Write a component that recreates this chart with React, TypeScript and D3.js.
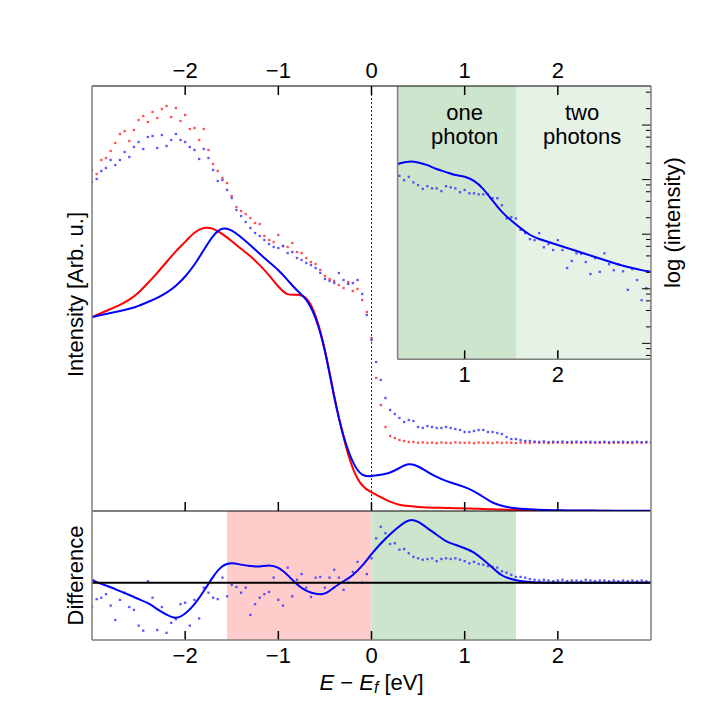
import * as d3 from "d3";

// frame (px)
const W = 720;
const H = 720;
const left = 92;
const right = 651;
const top = 86;
const mainBottom = 511;
const diffBottom = 640;
const insetBottom = 359.3;

// regions (eV)
const insetStartE = 0.28;
const photonSplitE = 1.55;
const depletionStartE = -1.55;

const xTicks = [-2, -1, 0, 1, 2];
const insetXTicks = [1, 2];

// smooth curves, -3 .. 3 eV every 0.1 eV
const redCurve = [
  194, 198, 202, 206, 211, 218, 228, 238, 249, 260,
  269, 279, 284, 283, 277, 270, 262, 255, 246, 236,
  224, 215, 217, 215, 198, 163, 114, 72, 40, 24,
  18.5, 14, 9, 6, 5, 4, 3.5, 3.2, 3, 2.8,
  2.6, 2.3, 2, 1.7, 1.4, 1.2, 1, 0.8, 0.6, 0.5,
  0.4, 0.3, 0.3, 0.2, 0.2, 0.2, 0.1, 0.1, 0.1, 0.1, 0.1,
];
const blueCurve = [
  194, 196, 198, 200, 202, 205, 209, 213, 218, 225,
  234, 246, 261, 276, 284, 281, 274, 266, 257, 249,
  241, 231, 220, 213, 195, 163, 112, 73, 47, 34,
  35, 36, 38, 43, 48, 45, 39, 34, 30, 27,
  24, 20, 14, 8, 5, 3, 2.2, 1.6, 1.2, 0.9,
  0.7, 0.6, 0.5, 0.4, 0.4, 0.3, 0.3, 0.2, 0.2, 0.2, 0.2,
];
const diffCurve = [
  0.04, -0.02, -0.06, -0.12, -0.17, -0.23, -0.28, -0.37, -0.45, -0.51,
  -0.44, -0.31, -0.12, 0.09, 0.25, 0.28, 0.25, 0.23, 0.22, 0.25,
  0.22, 0.11, -0.03, -0.12, -0.16, -0.17, -0.06, 0.02, 0.1, 0.23,
  0.4, 0.55, 0.68, 0.79, 0.89, 0.86, 0.76, 0.67, 0.57, 0.53,
  0.48, 0.43, 0.32, 0.21, 0.09, 0.05, 0.02, 0.01, 0, 0,
  0, 0, 0, 0, 0, 0, 0, 0, 0, 0, 0,
];

// measured points, -3 .. 3 eV every 0.05 eV
const redDots = [
  341, 337, 351, 353, 360, 368, 377, 380, 370, 381,
  391, 395, 389, 399, 393, 402, 405, 394, 403, 390,
  396, 382, 383, 371, 382, 361, 347, 340, 333, 328,
  315, 304, 300, 297, 293, 288, 287, 275, 271, 269,
  276, 265, 264, 268, 259, 258, 253, 249, 247, 241,
  235, 232, 230, 226, 223, 229, 220, 222, 211, 199,
  173, 133, 106, 84, 75, 73, 71, 70, 69, 69,
  68.3, 68.6, 68.1, 68.4, 67.9, 68.5, 68.2, 68.0, 68.6, 68.3,
  68.1, 68.4, 67.8, 68.5, 68.2, 68.3, 67.9, 68.6, 68.1, 68.4,
  68.2, 67.9, 68.5, 68.3, 68.0, 68.6, 68.2, 68.4, 67.8, 68.3,
  68.5, 68.1, 68.3, 67.9, 68.4, 68.2, 68.6, 68.0, 68.3, 68.1,
  68.4, 67.9, 68.2, 68.5, 68.1, 68.3, 67.8, 68.4, 68.2, 68.5,
  68.1,
];
const blueDots = [
  329, 332, 340, 343, 351, 346, 351, 359, 354, 364,
  369, 362, 374, 375, 363, 376, 365, 371, 377, 371,
  369, 364, 361, 352, 362, 353, 341, 330, 331, 321,
  313, 301, 295, 289, 283, 278, 275, 271, 267, 264,
  263, 265, 258, 259, 253, 251, 248, 246, 243, 238,
  232, 230, 228, 238, 231, 227, 228, 231, 217, 196,
  171, 149, 131, 113, 101, 97, 93, 89, 91, 90,
  84, 83, 85, 84, 83, 83, 84, 83, 82, 81,
  79, 79, 80, 81, 81, 79, 79, 78, 77, 74,
  72, 72, 71, 70, 70, 69.4, 69.1, 69.6, 68.9, 69.3,
  69.0, 69.5, 68.8, 69.2, 69.4, 68.9, 69.1, 69.3, 68.7, 69.0,
  69.2, 68.8, 69.1, 68.9, 69.3, 68.7, 69.0, 69.2, 68.8, 69.1,
  68.9,
];
const diffDots = [
  -0.34, -0.23, -0.21, -0.16, -0.32, -0.52, -0.24, -0.14, -0.34, -0.38,
  -0.6, -0.67, 0.02, -0.21, -0.66, -0.34, -0.7, -0.56, -0.51, -0.3,
  -0.28, -0.6, -0.24, -0.5, -0.07, -0.14, -0.21, -0.23, 0.07, -0.19,
  -0.03, -0.06, -0.14, -0.07, -0.45, -0.3, -0.21, -0.16, -0.13, 0.07,
  -0.24, -0.32, 0.21, -0.19, 0.04, 0.12, -0.07, -0.2, 0.07, 0.08,
  -0.07, 0.07, 0.18, 0.07, -0.1, 0.0, 0.15, 0.29, 0.0, 0.12,
  0.34, 0.62, 0.78, 0.69, 0.54, 0.55, 0.46, 0.47, 0.41, 0.36,
  0.34, 0.32, 0.33, 0.34, 0.3, 0.33, 0.34, 0.33, 0.34, 0.32,
  0.3, 0.27, 0.29, 0.26, 0.25, 0.23, 0.22, 0.21, 0.16, 0.14,
  0.11, 0.08, 0.08, 0.07, 0.05, 0.04, 0.03, 0.04, 0.03, 0.02,
  0.03, 0.04, 0.02, 0.03, 0.03, 0.02, 0.04, 0.03, 0.02, 0.03,
  0.03, 0.02, 0.03, 0.02, 0.03, 0.02, 0.03, 0.02, 0.03, 0.02,
  0.02,
];

// inset, log10(intensity): curve 0.2 .. 3 eV every 0.1, points 0.3 .. 3 eV every 0.05
const insetCurveLog = [
  4.24, 4.3, 4.34, 4.32, 4.27, 4.19, 4.14, 4.08, 4.06, 3.99,
  3.84, 3.61, 3.4, 3.25, 3.11, 2.98, 2.91, 2.86, 2.8, 2.75,
  2.69, 2.64, 2.58, 2.53, 2.47, 2.42, 2.38, 2.34, 2.31,
];
const insetDotsLog = [
  4.07, 3.99, 4.05, 3.95, 3.9, 3.83, 3.88, 3.84, 3.84, 3.79,
  3.88, 3.86, 3.84, 3.77, 3.81, 3.75, 3.75, 3.73, 3.73, 3.73,
  3.66, 3.66, 3.53, 3.29, 3.31, 3.29, 3.08, 3.02, 2.91, 2.89,
  3.02, 2.76, 2.82, 2.71, 2.89, 2.71, 2.38, 2.51, 2.65, 2.64,
  2.49, 2.27, 2.56, 2.31, 2.65, 2.45, 2.34, 2.45, 2.32, 1.98,
  2.36, 2.16, 1.79, 2.01, 1.65,
];

const grid = (start: number, step: number, n: number) =>
  d3.range(n).map((i) => +(start + i * step).toFixed(3));

const FONT = "Liberation Sans, Arial, Helvetica, sans-serif";
const FS = 22;
const GRAY = "#7f7f7f";
const fmt = (t: number) => String(t).replace("-", "\u2212");

export default function App() {
  const x = d3.scaleLinear().domain([-3, 3]).range([left, right]);
  const y = d3.scaleLinear().domain([0, 425]).range([mainBottom, top]);
  const yd = d3.scaleLinear().domain([-0.8, 1.0]).range([diffBottom, mainBottom]);
  const yl = d3.scaleLog().domain([5.1, 5.2e5]).range([insetBottom, top]);

  const eCurve = grid(-3, 0.1, redCurve.length);
  const eDots = grid(-3, 0.05, redDots.length);
  const eInsetCurve = grid(0.2, 0.1, insetCurveLog.length);
  const eInsetDots = grid(0.3, 0.05, insetDotsLog.length);

  const smooth = d3.curveBasis;
  const mainLine = d3
    .line<[number, number]>()
    .x((d) => x(d[0]))
    .y((d) => y(d[1]))
    .curve(smooth);
  const diffLine = d3
    .line<[number, number]>()
    .x((d) => x(d[0]))
    .y((d) => yd(d[1]))
    .curve(smooth);
  const insetLine = d3
    .line<[number, number]>()
    .x((d) => x(d[0]))
    .y((d) => yl(Math.pow(10, d[1])))
    .curve(smooth);

  const zip = (es: number[], vs: number[]) =>
    vs.map((v, i) => [es[i], v] as [number, number]);

  const logTicks = yl.ticks().filter((t) => {
    const m = Math.round(t / Math.pow(10, Math.floor(Math.log10(t) + 1e-9)));
    return [1, 2, 4, 6, 8].includes(m);
  });
  const isMajor = (t: number) =>
    Math.abs(Math.log10(t) - Math.round(Math.log10(t))) < 1e-6;

  const dot = 2.3;
  const xi0 = x(insetStartE);

  return (
    <svg
      width={W}
      height={H}
      style={{ position: "absolute", left: 0, top: 0, background: "#fff" }}
      fontFamily={FONT}
    >
      <defs>
        <clipPath id="clipMain">
          <rect x={left} y={top} width={right - left} height={mainBottom - top} />
        </clipPath>
        <clipPath id="clipDiff">
          <rect x={left} y={mainBottom} width={right - left} height={diffBottom - mainBottom} />
        </clipPath>
        <clipPath id="clipInset">
          <rect x={xi0} y={top} width={right - xi0} height={insetBottom - top} />
        </clipPath>
      </defs>

      {/* difference panel */}
      <rect
        x={x(depletionStartE)}
        y={mainBottom}
        width={x(0) - x(depletionStartE)}
        height={diffBottom - mainBottom}
        fill="#ffcccc"
      />
      <rect
        x={x(0)}
        y={mainBottom}
        width={x(photonSplitE) - x(0)}
        height={diffBottom - mainBottom}
        fill="#cce5cc"
      />
      <g clipPath="url(#clipDiff)">
        {zip(eDots, diffDots).map(([e, v], i) => (
          <rect key={i} x={x(e) - dot / 2} y={yd(v) - dot / 2} width={dot} height={dot} fill="#3a3aff" opacity={0.85} />
        ))}
        <path d={diffLine(zip(eCurve, diffCurve)) || ""} fill="none" stroke="#0000ff" strokeWidth={2} />
      </g>
      <line x1={left} x2={right} y1={yd(0)} y2={yd(0)} stroke="#000" strokeWidth={2} />

      {/* main panel */}
      <line x1={x(0)} x2={x(0)} y1={top} y2={mainBottom} stroke="#000" strokeWidth={0.8} strokeDasharray="2,2" />
      <g clipPath="url(#clipMain)">
        {zip(eDots, redDots).map(([e, v], i) => (
          <rect key={"r" + i} x={x(e) - dot / 2} y={y(v) - dot / 2} width={dot} height={dot} fill="#ff3030" opacity={0.85} />
        ))}
        {zip(eDots, blueDots).map(([e, v], i) => (
          <rect key={"b" + i} x={x(e) - dot / 2} y={y(v) - dot / 2} width={dot} height={dot} fill="#3a3aff" opacity={0.85} />
        ))}
        <path d={mainLine(zip(eCurve, redCurve)) || ""} fill="none" stroke="#ff0000" strokeWidth={2} />
        <path d={mainLine(zip(eCurve, blueCurve)) || ""} fill="none" stroke="#0000ff" strokeWidth={2} />
      </g>

      {/* inset */}
      <rect x={xi0} y={top} width={x(photonSplitE) - xi0} height={insetBottom - top} fill="#cde5cd" />
      <rect x={x(photonSplitE)} y={top} width={right - x(photonSplitE)} height={insetBottom - top} fill="#e6f2e6" />
      <g clipPath="url(#clipInset)">
        {zip(eInsetDots, insetDotsLog).map(([e, v], i) => (
          <rect key={i} x={x(e) - dot / 2} y={yl(Math.pow(10, v)) - dot / 2} width={dot} height={dot} fill="#3a3aff" opacity={0.85} />
        ))}
        <path d={insetLine(zip(eInsetCurve, insetCurveLog)) || ""} fill="none" stroke="#0000ff" strokeWidth={2} />
      </g>
      {insetXTicks.map((t) => (
        <g key={"it" + t}>
          <line x1={x(t)} x2={x(t)} y1={insetBottom} y2={insetBottom - 9} stroke="#000" strokeWidth={1.5} />
          <text x={x(t)} y={382} fontSize={FS} textAnchor="middle">{fmt(t)}</text>
        </g>
      ))}
      {logTicks.map((t) => (
        <line
          key={"lt" + t}
          x1={right}
          x2={right - (isMajor(t) ? 9 : 5)}
          y1={yl(t)}
          y2={yl(t)}
          stroke="#000"
          strokeWidth={1}
        />
      ))}
      <line x1={xi0} x2={xi0} y1={top} y2={insetBottom} stroke={GRAY} strokeWidth={1.5} />
      <line x1={xi0} x2={right} y1={insetBottom} y2={insetBottom} stroke={GRAY} strokeWidth={1.5} />
      <text fontSize={FS} textAnchor="middle">
        <tspan x={x(1.0)} y={120}>one</tspan>
        <tspan x={x(1.0)} y={144}>photon</tspan>
      </text>
      <text fontSize={FS} textAnchor="middle">
        <tspan x={x(2.26)} y={120}>two</tspan>
        <tspan x={x(2.26)} y={144}>photons</tspan>
      </text>

      {/* x ticks */}
      {xTicks.map((t) => (
        <g key={"xt" + t}>
          <line x1={x(t)} x2={x(t)} y1={top} y2={top + 9} stroke="#000" strokeWidth={1.5} />
          <line x1={x(t)} x2={x(t)} y1={mainBottom} y2={mainBottom - 9} stroke="#000" strokeWidth={1.5} />
          <line x1={x(t)} x2={x(t)} y1={diffBottom} y2={diffBottom - 9} stroke="#000" strokeWidth={1.5} />
          <text x={x(t)} y={78} fontSize={FS} textAnchor="middle">{fmt(t)}</text>
          <text x={x(t)} y={663} fontSize={FS} textAnchor="middle">{fmt(t)}</text>
        </g>
      ))}

      {/* frame */}
      <line x1={left} x2={right} y1={top} y2={top} stroke="#000" strokeWidth={1} />
      <line x1={left} x2={right} y1={mainBottom} y2={mainBottom} stroke="#000" strokeWidth={1} />
      <line x1={left} x2={right} y1={diffBottom} y2={diffBottom} stroke={GRAY} strokeWidth={1.5} />
      <line x1={left} x2={left} y1={top} y2={diffBottom} stroke={GRAY} strokeWidth={1.5} />
      <line x1={right} x2={right} y1={top} y2={diffBottom} stroke={GRAY} strokeWidth={1.5} />

      {/* labels */}
      <text transform={`translate(83,${(top + mainBottom) / 2 - 4}) rotate(-90)`} fontSize={FS} textAnchor="middle">
        Intensity [Arb. u.]
      </text>
      <text transform={`translate(83,${(mainBottom + diffBottom) / 2}) rotate(-90)`} fontSize={FS} textAnchor="middle">
        Difference
      </text>
      <text transform={`translate(680,${(top + insetBottom) / 2}) rotate(-90)`} fontSize={FS} textAnchor="middle">
        log (intensity)
      </text>
      <text x={x(0)} y={690} fontSize={FS} textAnchor="middle">
        <tspan fontStyle="italic">E</tspan>
        <tspan> {"\u2212"} </tspan>
        <tspan fontStyle="italic">E</tspan>
        <tspan fontStyle="italic" fontSize={16} dy={3}>f</tspan>
        <tspan dy={-3}> [eV]</tspan>
      </text>
    </svg>
  );
}
